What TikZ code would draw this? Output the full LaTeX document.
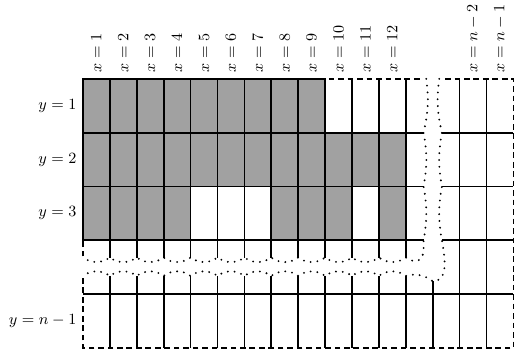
\documentclass[tikz,border=0pt]{standalone}
\usepackage{amsmath}
\usepackage{tikz}
\usetikzlibrary{calc}

\definecolor{cellgray}{gray}{0.63}

\begin{document}
\begin{tikzpicture}[line width=0.9pt, font=\small]
        \tikzstyle{edge} = [dash pattern=on 3pt off 2pt]
        \tikzstyle{cut} = [line width=1.1pt, line cap=round, dash pattern=on 0pt off 3.6pt]
        \tikzstyle{cell} = [draw, fill=cellgray]
        \tikzstyle{xlab} = [rotate=90, anchor=west, scale=0.92]
        \tikzstyle{ylab} = [anchor=east, scale=0.92]
        \useasboundingbox (-1.541,-5.142) rectangle (8.01,1.466);

        % Outer border (dashed)
        \draw [edge] (0,0) -- (6.27,0);
        \draw [edge] (6.73,0) -- (8,0) -- (8,-5) -- (0,-5) -- (0,-3.66);
        \draw [edge] (0,-3.3) -- (0,0);

        % Rows
        \foreach \y in {1,2,3} {
            \draw (0,-\y) -- (6.33,-\y);
            \draw (6.67,-\y) -- (8,-\y);
        }
        \draw (0,-4) -- (8,-4);

        % Columns
        \foreach \i in {1,...,12} {
            \draw ({\i/2},0) -- ({\i/2},-3.32);
            \draw ({\i/2},-3.66) -- ({\i/2},-5);
        }
        \draw (6.5,-3.76) -- (6.5,-5);
        \draw (7,0) -- (7,-5);
        \draw (7.5,0) -- (7.5,-5);

        % Filled cells
        \foreach \c in {1,...,9} \draw [cell] ({(\c-1)/2},0) rectangle ++(0.5,-1);
        \foreach \c in {1,...,12} \draw [cell] ({(\c-1)/2},-1) rectangle ++(0.5,-1);
        \foreach \c in {1,2,3,4,8,9,10,12} \draw [cell] ({(\c-1)/2},-2) rectangle ++(0.5,-1);

        % Break lines
        \draw [cut] (6.38,0) to[bend left=10] (6.33,-1) to[bend left=10] (6.33,-2) to[bend left=10] (6.33,-3)
            -- (6.33,-3.2) .. controls (6.3,-3.42) and (6.15,-3.42) .. (6,-3.32)
            \foreach \i in {11,10,...,0} { to[bend left=35] ({\i/2},-3.32) };
        \draw [cut] (6.62,0) to[bend right=10] (6.67,-1) to[bend right=10] (6.67,-2) to[bend right=10] (6.67,-3)
            to[out=-80, in=0] (6.5,-3.76) to[bend right=25] (6,-3.66)
            \foreach \i in {11,10,...,0} { to[bend right=35] ({\i/2},-3.66) };

        % Column labels
        \foreach \c in {1,...,12} \node [xlab] (x\c) at ({(\c-0.5)/2},0) {$x=\c$};
        \node [xlab] (xn2) at (7.25,0) {$x=n-2$};
        \node [xlab] (xn1) at (7.75,0) {$x=n-1$};

        % Row labels
        \node [ylab] (y1) at (0,-0.5) {$y=1$};
        \node [ylab] (y2) at (0,-1.5) {$y=2$};
        \node [ylab] (y3) at (0,-2.5) {$y=3$};
        \node [ylab] (yn1) at (0,-4.5) {$y=n-1$};

    \end{tikzpicture}
\end{document}
